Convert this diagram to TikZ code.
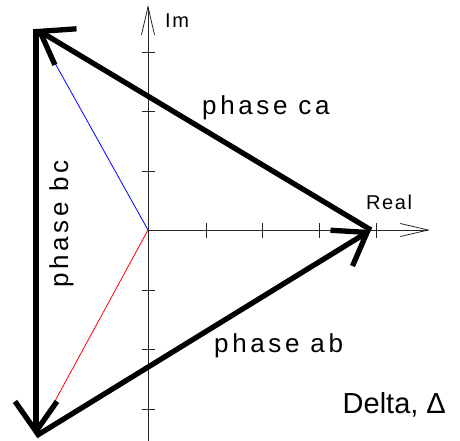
\documentclass[tikz,border=0pt]{standalone}
\usepackage{fontspec}
\setmainfont{Liberation Sans}
\newfontfamily\cadfont[LetterSpace=14]{Liberation Sans}
\newfontfamily\cadaxisfont[LetterSpace=8]{Liberation Sans}
\usetikzlibrary{arrows.meta}
\begin{document}
\begin{tikzpicture}[x=1pt,y=-1pt,
  axisline/.style={line width=0.8pt,black!85},
  tickline/.style={line width=0.8pt,black!85},
  axisarrow/.style={-{Straight Barb[length=28pt,width=13pt,line width=0.8pt]}},
  phasor/.style={line width=5.3pt,-{Straight Barb[length=30pt,width=42pt,line width=5.3pt]}},
  cadlabel/.style={font=\cadfont\fontsize{26}{30}\selectfont,inner sep=0pt},
  axislabel/.style={font=\cadaxisfont\fontsize{20}{24}\selectfont,inner sep=0pt},
  thinline/.style={line width=0.8pt}]
\useasboundingbox (0,0) rectangle (460,441);
% points
\coordinate (O) at (148,230);
\coordinate (A) at (36,29);
\coordinate (B) at (371,230);
\coordinate (C) at (36,436);
\coordinate (ImTop) at (148,5);
\coordinate (ImBot) at (148,441);
\coordinate (ReEnd) at (430,230);
% axes
\draw[axisline,axisarrow] (ImBot) -- (ImTop);
\draw[axisline,axisarrow] (O) -- (ReEnd);
\foreach \ty in {52,111,171,290,349,409}
  \draw[tickline] (142,\ty) -- (155,\ty);
\foreach \tx in {206,262,319,376}
  \draw[tickline] (\tx,223) -- (\tx,238);
% thin phase lines
\draw[thinline,blue] (O) -- (A);
\draw[thinline,red] (O) -- (C);
% phasors
\draw[phasor] (B) -- (A);
\draw[phasor] (A) -- (C);
\draw[phasor] (C) -- (B);
% labels
\node[axislabel,anchor=base west] (lim) at (165,28) {Im};
\node[axislabel,anchor=base west] (lre) at (366,209) {Real};
\node[cadlabel,anchor=base west] (lca) at (202,115) {phase ca};
\node[cadlabel,anchor=base west] (lab) at (214,352) {phase ab};
\node[cadlabel,anchor=base west,rotate=90] (lbc) at (68,288) {phase bc};
\node[font=\fontsize{29}{33}\selectfont,inner sep=0pt,anchor=base west] (ldelta) at (342.5,413) {Delta, Δ};
\end{tikzpicture}
\end{document}
